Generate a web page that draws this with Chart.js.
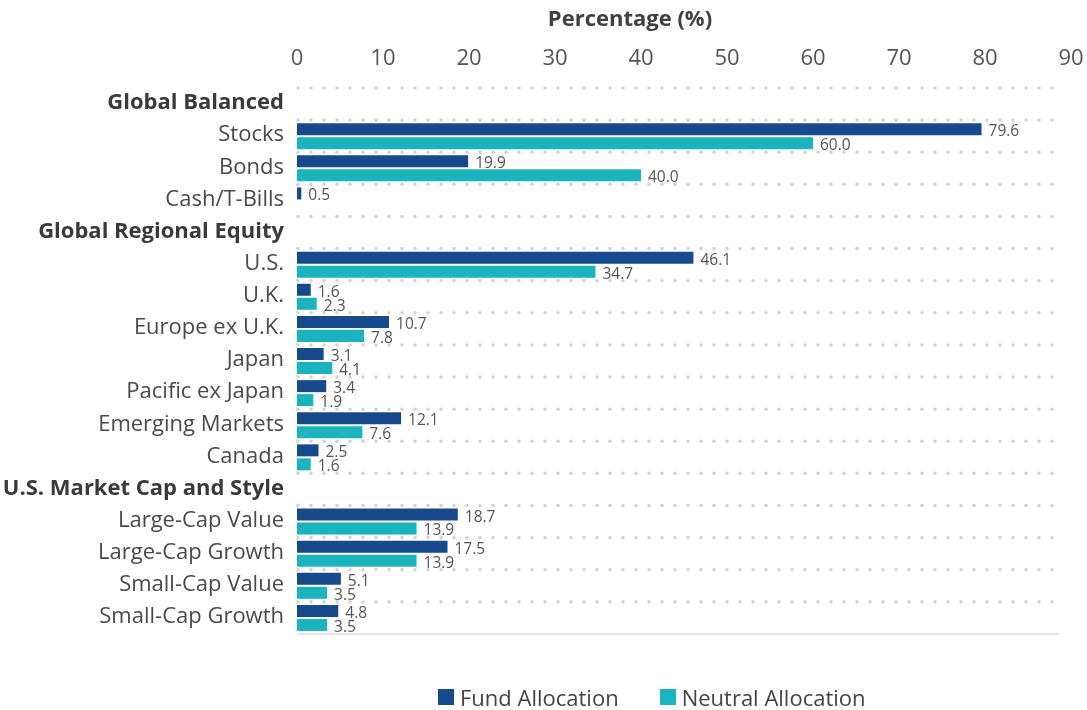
<!DOCTYPE html>
<html>
<head>
<meta charset="utf-8">
<script src="https://cdn.jsdelivr.net/npm/chart.js@4"></script>
<style>
  html, body { margin: 0; padding: 0; background: #fff; }
  #wrap { position: relative; width: 1087px; height: 710px; }
  #legend { position: absolute; top: 682px; left: 438px; display: flex; align-items: center;
    font: 22px "Open Sans", sans-serif; color: #444; }
  #legend .sw { display: inline-block; width: 16px; height: 16px; margin-right: 6px; }
  #legend .item { display: flex; align-items: center; margin-right: 41px; }
</style>
</head>
<body>
<div id="wrap">
  <canvas id="chart" width="1087" height="710"></canvas>
  <div id="legend"></div>
</div>
<script>
// categories (group headers have no bars)
const headers = ['Global Balanced', 'Global Regional Equity', 'U.S. Market Cap and Style'];
const categories = [
  'Global Balanced', 'Stocks', 'Bonds', 'Cash/T-Bills',
  'Global Regional Equity', 'U.S.', 'U.K.', 'Europe ex U.K.', 'Japan', 'Pacific ex Japan', 'Emerging Markets', 'Canada',
  'U.S. Market Cap and Style', 'Large-Cap Value', 'Large-Cap Growth', 'Small-Cap Value', 'Small-Cap Growth'
];
const fundAllocation = [
  null, 79.6, 19.9, 0.5,
  null, 46.1, 1.6, 10.7, 3.1, 3.4, 12.1, 2.5,
  null, 18.7, 17.5, 5.1, 4.8
];
const neutralAllocation = [
  null, 60.0, 40.0, null,
  null, 34.7, 2.3, 7.8, 4.1, 1.9, 7.6, 1.6,
  null, 13.9, 13.9, 3.5, 3.5
];
const seriesNames = ['Fund Allocation', 'Neutral Allocation'];
const seriesColors = ['#174A8C', '#1AB3BE'];
const xTicks = [0, 10, 20, 30, 40, 50, 60, 70, 80, 90];
const axisTitle = 'Percentage (%)';

/*--------------------- plugins ---------------------*/
const dottedGrid = {
  id: 'dottedGrid',
  beforeDatasetsDraw(chart) {
    const { ctx, chartArea, scales: { y } } = chart;
    const step = y.getPixelForValue(1) - y.getPixelForValue(0);
    ctx.save();
    ctx.fillStyle = '#d4d4d4';
    for (let i = 0; i < categories.length; i++) {
      const yy = y.getPixelForValue(i) - step / 2;
      for (let x = chartArea.left + 1; x < chartArea.right - 12; x += 13) {
        ctx.beginPath();
        ctx.arc(x, yy, 1.8, 0, Math.PI * 2);
        ctx.fill();
      }
    }
    // solid bottom line
    ctx.strokeStyle = '#dcdcdc';
    ctx.lineWidth = 1.5;
    ctx.beginPath();
    ctx.moveTo(chartArea.left, chartArea.bottom);
    ctx.lineTo(chartArea.right - 12, chartArea.bottom);
    ctx.stroke();
    ctx.restore();
  }
};

const valueLabels = {
  id: 'valueLabels',
  afterDatasetsDraw(chart) {
    const { ctx } = chart;
    ctx.save();
    ctx.font = '15.5px "Open Sans"';
    ctx.fillStyle = '#555';
    ctx.textAlign = 'left';
    ctx.textBaseline = 'middle';
    chart.data.datasets.forEach((ds, di) => {
      chart.getDatasetMeta(di).data.forEach((bar, i) => {
        const v = ds.data[i];
        if (v === null || v === undefined) return;
        ctx.fillText(v.toFixed(1), bar.x + 7, bar.y + 2.5);
      });
    });
    ctx.restore();
  }
};

const topTitle = {
  id: 'topTitle',
  afterDraw(chart) {
    const { ctx } = chart;
    ctx.save();
    ctx.font = 'bold 22px "Open Sans"';
    ctx.fillStyle = '#404040';
    ctx.textAlign = 'center';
    ctx.textBaseline = 'middle';
    ctx.fillText(axisTitle, 630, 20);
    ctx.restore();
  }
};

/*--------------------- chart ---------------------*/
const ctx = document.getElementById('chart').getContext('2d');
new Chart(ctx, {
  type: 'bar',
  data: {
    labels: categories,
    datasets: [
      { label: seriesNames[0], data: fundAllocation, backgroundColor: seriesColors[0] },
      { label: seriesNames[1], data: neutralAllocation, backgroundColor: seriesColors[1] }
    ]
  },
  options: {
    indexAxis: 'y',
    responsive: false,
    animation: false,
    categoryPercentage: 0.87,
    barPercentage: 0.86,
    layout: { padding: { top: 0, right: 16, bottom: 76, left: 0 } },
    plugins: {
      legend: { display: false },
      tooltip: { enabled: false }
    },
    scales: {
      x: {
        position: 'top',
        min: 0,
        max: 90,
        afterBuildTicks: (s) => { s.ticks = xTicks.map(v => ({ value: v })); },
        afterFit: (s) => { s.height = 88; s.paddingLeft = 0; s.paddingRight = 0; },
        grid: { display: false },
        border: { display: false },
        ticks: { padding: 8, color: '#555', font: { family: 'Open Sans', size: 22 } }
      },
      y: {
        afterFit: (s) => { s.width = 297; },
        grid: { display: false },
        border: { display: false },
        ticks: {
          autoSkip: false,
          padding: 5,
          labelOffset: -1,
          color: (c) => headers.includes(categories[c.index]) ? '#3a3a3a' : '#4a4a4a',
          font: (c) => ({
            family: 'Open Sans',
            size: 22,
            weight: headers.includes(categories[c.index]) ? 'bold' : 'normal'
          })
        }
      }
    }
  },
  plugins: [dottedGrid, valueLabels, topTitle]
});

// legend
const legend = document.getElementById('legend');
seriesNames.forEach((name, i) => {
  const item = document.createElement('div');
  item.className = 'item';
  item.innerHTML = `<span class="sw" style="background:${seriesColors[i]}"></span><span>${name}</span>`;
  legend.appendChild(item);
});
</script>
</body>
</html>
